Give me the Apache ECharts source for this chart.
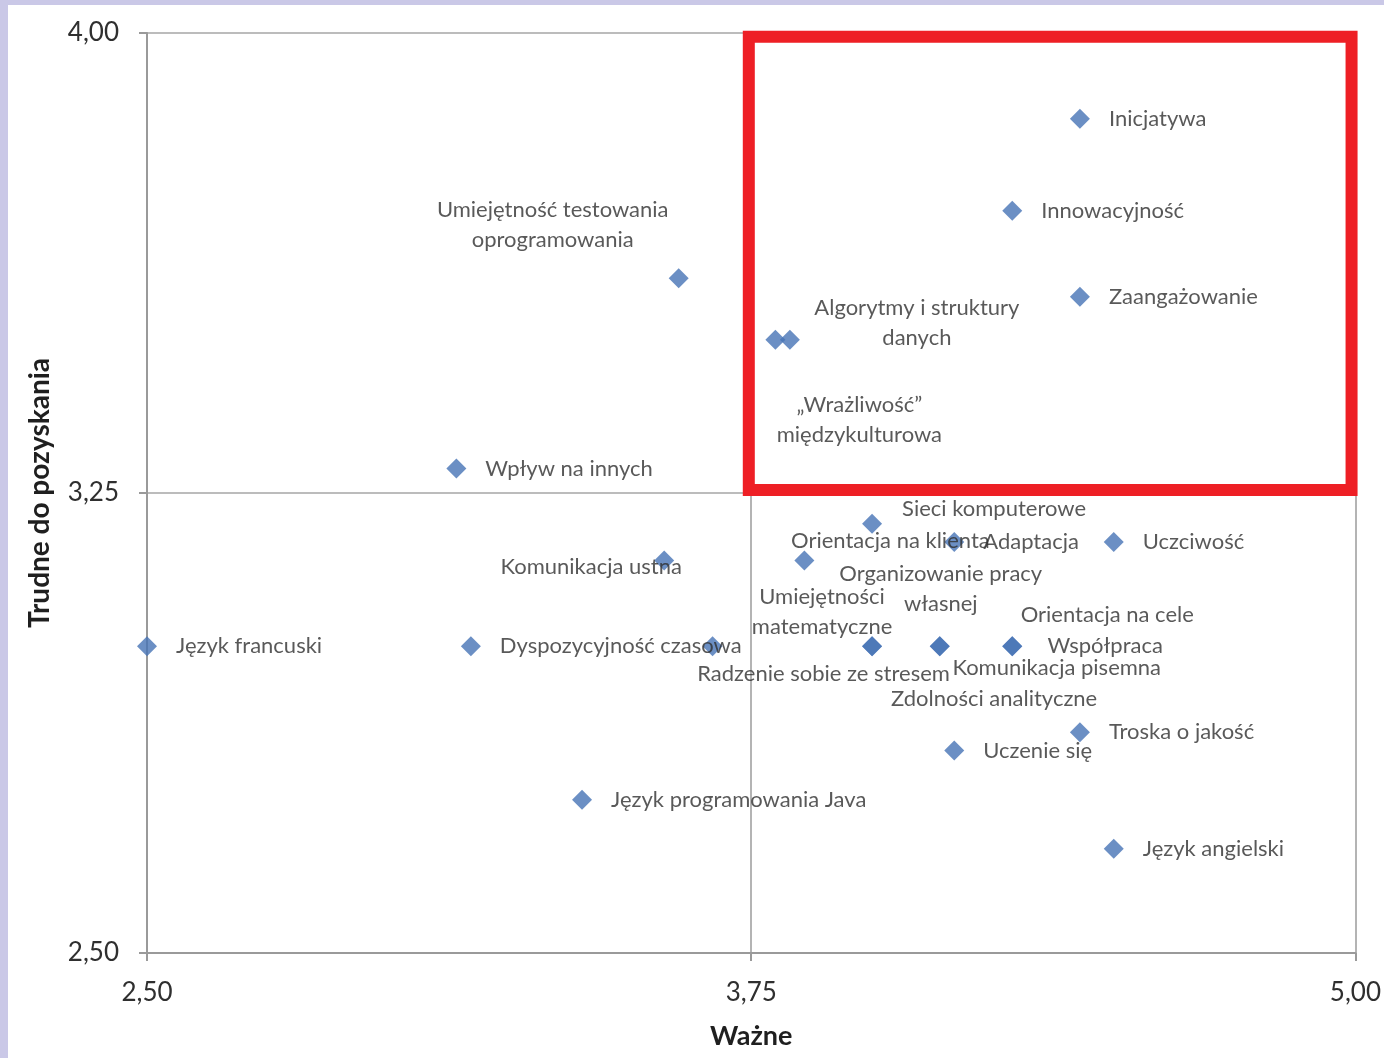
<!DOCTYPE html>
<html>
<head>
<meta charset="utf-8">
<script src="https://cdn.jsdelivr.net/npm/echarts@6/dist/echarts.min.js"></script>
<style>
  html, body { margin: 0; padding: 0; background: #ffffff; }
  #chart { width: 1384px; height: 1058px; }
</style>
</head>
<body>
<div id="chart"></div>
<script>
// Competences: importance (x, "Ważne") vs. difficulty to acquire (y, "Trudne do pozyskania")
const names = [
  'Inicjatywa',
  'Innowacyjność',
  'Zaangażowanie',
  'Algorytmy i struktury\ndanych',
  '„Wrażliwość”\nmiędzykulturowa',
  'Umiejętność testowania\noprogramowania',
  'Wpływ na innych',
  'Komunikacja ustna',
  'Język francuski',
  'Dyspozycyjność czasowa',
  'Radzenie sobie ze stresem',
  'Sieci komputerowe',
  'Orientacja na klienta',
  'Adaptacja',
  'Uczciwość',
  'Umiejętności\nmatematyczne',
  'Organizowanie pracy\nwłasnej',
  'Orientacja na cele',
  'Współpraca',
  'Komunikacja pisemna',
  'Zdolności analityczne',
  'Troska o jakość',
  'Uczenie się',
  'Język programowania Java',
  'Język angielski'
];
const importance = [
  4.43, 4.29, 4.43, 3.83, 3.80, 3.60, 3.14, 3.57, 2.50, 3.17,
  3.67, 4.00, 3.86, 4.17, 4.50, 4.00, 4.14, 4.29, 4.29, 4.14,
  4.00, 4.43, 4.17, 3.40, 4.50
];
const difficulty = [
  3.86, 3.71, 3.57, 3.50, 3.50, 3.60, 3.29, 3.14, 3.00, 3.00,
  3.00, 3.20, 3.14, 3.17, 3.17, 3.00, 3.00, 3.00, 3.00, 3.00,
  3.00, 2.86, 2.83, 2.75, 2.67
];
const xTicks = [2.50, 3.75, 5.00];
const yTicks = [2.50, 3.25, 4.00];

// Hand-placed labels (offset of label centre from the marker, px); the rest sit to the right
const labelOffsets = {
  'Algorytmy i struktury\ndanych': [127, -17],
  '„Wrażliwość”\nmiędzykulturowa': [84, 80],
  'Umiejętność testowania\noprogramowania': [-126, -53],
  'Komunikacja ustna': [-73, 6],
  'Radzenie sobie ze stresem': [111, 28],
  'Sieci komputerowe': [122, -15],
  'Orientacja na klienta': [86, -20],
  'Umiejętności\nmatematyczne': [-50, -34],
  'Organizowanie pracy\nwłasnej': [1, -57],
  'Orientacja na cele': [95, -31],
  'Współpraca': [93, 0],
  'Komunikacja pisemna': [117, 22],
  'Zdolności analityczne': [122, 53]
};

// Highlighted quadrant frame (data coordinates)
const frameCorners = [[3.745, 3.994], [4.992, 3.255]];

const fmt = v => v.toFixed(2).replace('.', ',');
const FONT = 'Lato';
const TEXT = '#2f2f2f';

const points = names.map((n, i) => {
  const item = { name: n, value: [importance[i], difficulty[i]] };
  const off = labelOffsets[n];
  if (off) {
    item.label = { position: 'inside', offset: off, align: 'center', verticalAlign: 'middle' };
  }
  return item;
});

const chart = echarts.init(document.getElementById('chart'), null, { renderer: 'canvas' });
chart.setOption({
  backgroundColor: '#ffffff',
  animation: false,
  graphic: [
    { type: 'rect', left: 0, top: 0, shape: { width: 1384, height: 5 }, style: { fill: '#cac8e7' }, z: -1 },
    { type: 'rect', left: 0, top: 0, shape: { width: 8, height: 1058 }, style: { fill: '#cac8e7' }, z: -1 }
  ],
  grid: { left: 147, right: 26, top: 33, bottom: 105 },
  xAxis: {
    type: 'value',
    min: xTicks[0], max: xTicks[xTicks.length - 1], interval: xTicks[1] - xTicks[0],
    name: 'Ważne', nameLocation: 'middle', nameGap: 70,
    nameTextStyle: { fontFamily: FONT, fontSize: 27, fontWeight: 'bold', color: '#1f1f1f' },
    axisLine: { show: true, onZero: false, lineStyle: { color: '#9a9a9a', width: 2 } },
    axisTick: { show: true, length: 8, lineStyle: { color: '#9a9a9a', width: 2 } },
    axisLabel: { margin: 27, fontFamily: FONT, fontSize: 26, color: TEXT, formatter: fmt },
    splitLine: { show: true, lineStyle: { color: '#b4b4b4', width: 2 } }
  },
  yAxis: {
    type: 'value',
    min: yTicks[0], max: yTicks[yTicks.length - 1], interval: yTicks[1] - yTicks[0],
    name: 'Trudne do pozyskania', nameLocation: 'middle', nameGap: 93,
    nameTextStyle: { fontFamily: FONT, fontSize: 28, fontWeight: 'bold', color: '#1f1f1f' },
    axisLine: { show: true, onZero: false, lineStyle: { color: '#9a9a9a', width: 2 } },
    axisTick: { show: true, length: 8, lineStyle: { color: '#9a9a9a', width: 2 } },
    axisLabel: { margin: 28, fontFamily: FONT, fontSize: 26, color: TEXT, formatter: fmt },
    splitLine: { show: true, lineStyle: { color: '#bcbcbc', width: 2 } }
  },
  series: [{
    type: 'scatter',
    symbol: 'diamond',
    symbolSize: 20,
    clip: false,
    itemStyle: { color: '#4673b5' },
    label: {
      show: true,
      position: 'right',
      distance: 19,
      formatter: p => p.name,
      fontFamily: FONT,
      fontSize: 22,
      lineHeight: 30,
      color: TEXT
    },
    data: points,
    markArea: {
      silent: true,
      itemStyle: { color: 'rgba(0,0,0,0)', borderColor: '#ee1f25', borderWidth: 12 },
      label: { show: false },
      data: [[{ coord: frameCorners[0] }, { coord: frameCorners[1] }]]
    }
  }]
});
</script>
</body>
</html>
